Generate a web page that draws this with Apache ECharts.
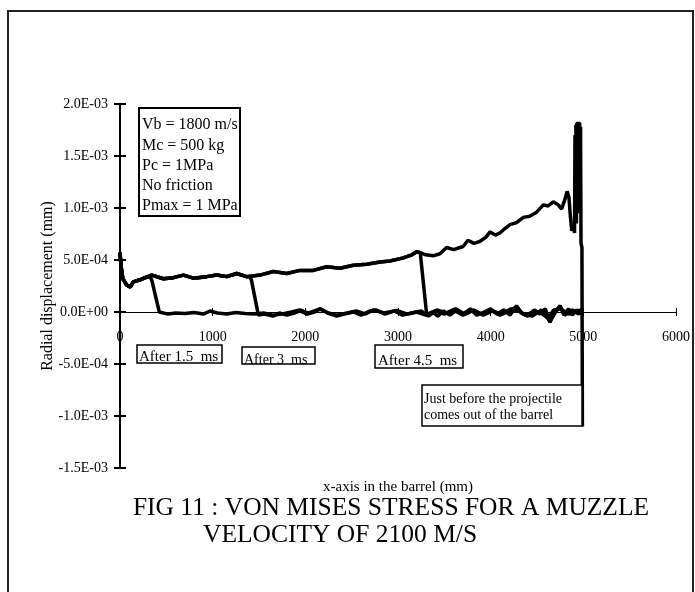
<!DOCTYPE html>
<html><head><meta charset="utf-8">
<script src="https://cdn.jsdelivr.net/npm/echarts/dist/echarts.min.js"></script>
<style>html,body{margin:0;padding:0;background:#fff}#c{width:695px;height:592px}</style>
</head><body><div id="c"></div><script>
// x in mm, y in units of 1E-03 mm
const xTickLabels = ['0','1000','2000','3000','4000','5000','6000'];
const yTickLabels = ['-1.5E-03','-1.0E-03','-5.0E-04','0.0E+00','5.0E-04','1.0E-03','1.5E-03','2.0E-03'];

const after15ms = [[0,0.57],[10,0.45],[30,0.32],[72,0.26],[110,0.24],[144,0.29],[216,0.31],[290,0.34],[330,0.33],
 [345,0.30],[424,0.0],[440,-0.01],[520,-0.02],[600,-0.01],[700,-0.015],[800,-0.005],[900,-0.02],[971,0.01],[1050,-0.01],
 [1150,-0.02],[1250,-0.005],[1350,-0.015],[1450,-0.02],[1550,-0.01],[1650,-0.03],[1750,-0.02],[1850,0.0],[1942,0.02],
 [2030,-0.01],[2158,0.03],[2250,-0.01],[2338,-0.03],[2450,-0.01],[2550,0.01],[2650,-0.02],[2734,0.02],[2850,-0.01],
 [2986,0.015],[3100,-0.02],[3200,0.0],[3300,-0.03],[3400,0.01],[3500,-0.02],[3600,0.02],[3700,-0.03],[3800,0.01],
 [3900,-0.02],[4000,0.02],[4100,-0.03],[4200,0.01],[4280,0.05],[4350,-0.02],[4450,-0.04],[4550,0.02],[4640,-0.09],
 [4700,0.0],[4748,0.05],[4800,-0.03],[4880,0.02],[4950,-0.02],[4990,0.03]];

const after3ms = [[0,0.57],[10,0.45],[30,0.32],[72,0.26],[110,0.24],[144,0.29],[216,0.31],[342,0.355],[468,0.32],
 [576,0.33],[684,0.355],[792,0.325],[935,0.34],[1043,0.355],[1151,0.34],[1259,0.37],[1367,0.34],[1403,0.34],
 [1420,0.30],[1493,-0.03],[1560,-0.02],[1650,-0.04],[1720,-0.01],[1800,-0.03],[1880,-0.01],[1942,0.01],[2020,-0.02],
 [2100,0.0],[2160,0.03],[2240,-0.01],[2338,-0.04],[2420,-0.02],[2520,0.0],[2600,-0.03],[2700,0.01],[2760,0.02],
 [2860,-0.02],[2960,0.01],[3050,-0.03],[3150,-0.01],[3250,0.01],[3330,-0.04],[3420,0.02],[3520,-0.01],[3620,0.03],
 [3720,-0.02],[3820,0.02],[3920,-0.03],[4020,0.01],[4120,-0.02],[4220,0.03],[4300,0.01],[4380,-0.03],[4480,0.01],
 [4560,-0.02],[4620,-0.06],[4680,0.02],[4760,0.03],[4840,-0.02],[4920,0.01],[4990,0.02]];

const after45ms = [[0,0.57],[10,0.45],[30,0.32],[72,0.26],[110,0.24],[144,0.29],[216,0.31],[342,0.355],[468,0.32],
 [576,0.33],[684,0.355],[792,0.325],[935,0.34],[1043,0.355],[1151,0.34],[1259,0.37],[1367,0.34],[1511,0.355],
 [1655,0.39],[1798,0.37],[1942,0.40],[2086,0.40],[2230,0.435],[2374,0.42],[2518,0.45],[2662,0.46],[2806,0.48],
 [2914,0.49],[3057,0.52],[3150,0.55],[3201,0.58],[3240,0.57],[3310,-0.03],[3370,0.0],[3430,-0.04],[3490,0.01],
 [3560,-0.03],[3640,0.02],[3700,-0.02],[3780,0.03],[3850,-0.03],[3930,0.0],[4000,0.03],[4070,-0.02],[4140,0.02],
 [4210,-0.03],[4280,0.06],[4330,-0.01],[4400,-0.04],[4470,0.02],[4530,-0.02],[4590,0.03],[4640,-0.10],[4680,-0.02],
 [4720,0.03],[4750,0.06],[4790,-0.03],[4840,0.03],[4880,-0.03],[4930,0.02],[4970,-0.02],[4990,0.04]];

const justBefore = [[0,0.57],[10,0.45],[30,0.32],[72,0.26],[110,0.24],[144,0.29],[216,0.31],[342,0.355],[468,0.32],
 [576,0.33],[684,0.355],[792,0.325],[935,0.34],[1043,0.355],[1151,0.34],[1259,0.37],[1367,0.34],[1511,0.355],
 [1655,0.39],[1798,0.37],[1942,0.40],[2086,0.40],[2230,0.435],[2374,0.42],[2518,0.45],[2662,0.46],[2806,0.48],
 [2914,0.49],[3057,0.52],[3150,0.55],[3201,0.58],[3240,0.57],[3300,0.55],[3380,0.54],[3453,0.56],[3525,0.62],
 [3600,0.60],[3702,0.63],[3755,0.69],[3820,0.66],[3885,0.68],[3950,0.72],[3993,0.77],[4050,0.74],[4101,0.76],
 [4150,0.80],[4209,0.84],[4280,0.86],[4352,0.91],[4420,0.92],[4496,0.96],[4568,1.03],[4620,1.02],[4676,1.06],
 [4730,1.03],[4766,0.99],[4800,1.08],[4825,1.16],[4845,1.10],[4860,0.92],[4875,0.78],[4890,0.84],[4905,0.76],
 [4910,1.70],[4915,0.90],[4920,1.80],[4925,0.85],[4930,1.82],[4935,0.95],[4940,1.83],[4945,1.00],[4950,1.83],
 [4955,1.05],[4960,1.82],[4965,1.10],[4970,1.78],[4975,0.66],[4985,0.62],[4990,-1.1]];

const infoLines = ['Vb = 1800 m/s','Mc = 500 kg','Pc = 1MPa','No friction','Pmax = 1 MPa'];
const titleLines = ['FIG 11 : VON MISES STRESS FOR A MUZZLE','VELOCITY OF 2100 M/S'];

const FONT = '"Liberation Serif", "Times New Roman", serif';
const chart = echarts.init(document.getElementById('c'), null, {renderer:'canvas'});

function mkSeries(name, data){
  return {name, type:'line', data, showSymbol:false, symbol:'none', smooth:false,
    lineStyle:{color:'#000', width:3.5}, z:3, animation:false};
}

// grid: top 104, bottom edge 468 ; zero of y at 312 -> x axis raised by 156px
const X_AXIS_RAISE = -156;
const axisBaseX = {type:'value', min:0, max:6000, interval:1000, position:'bottom', offset:X_AXIS_RAISE};
const axisBaseY = {type:'value', min:-1.5, max:2.0, interval:0.5, position:'left'};

const graphics = [
  {type:'rect', shape:{x:8, y:11, width:685, height:620}, style:{fill:'none', stroke:'#222', lineWidth:2}, silent:true},
  {type:'rect', shape:{x:139, y:108, width:101, height:108}, style:{fill:'#fff', stroke:'#000', lineWidth:2}, z:10},
];
infoLines.forEach((t,i)=>graphics.push({type:'text', x:142, y:125+i*20.3, z:11,
  style:{text:t, font:'16px '+FONT, fill:'#000', verticalAlign:'middle'}}));
function boxText(x,y,w,h,text,size,tx,ty){
  graphics.push({type:'rect', shape:{x,y,width:w,height:h}, style:{fill:'#fff', stroke:'#000', lineWidth:1.5}, z:10});
  graphics.push({type:'text', x:tx, y:ty, z:11, style:{text, font:size+'px '+FONT, fill:'#000', verticalAlign:'middle'}});
}
boxText(137,345,85,18,'After 1.5  ms',15,139,357);
boxText(242,347,73,17,'After 3  ms',14,244,360);
boxText(375,345,88,23,'After 4.5  ms',15,378,361);
graphics.push({type:'rect', shape:{x:422,y:385,width:160,height:41}, style:{fill:'#fff', stroke:'#000', lineWidth:1.5}, z:10});
graphics.push({type:'text', x:424, y:399, z:11, style:{text:'Just before the projectile', font:'14px '+FONT, fill:'#000', verticalAlign:'middle'}});
graphics.push({type:'text', x:424, y:415, z:11, style:{text:'comes out of the barrel', font:'14px '+FONT, fill:'#000', verticalAlign:'middle'}});
graphics.push({type:'text', x:391, y:508, z:11, style:{text:titleLines[0], font:'25.5px '+FONT, fill:'#000', align:'center', verticalAlign:'middle'}});
graphics.push({type:'text', x:203, y:535, z:11, style:{text:titleLines[1], font:'25.5px '+FONT, fill:'#000', align:'left', verticalAlign:'middle'}});

chart.setOption({
  animation:false,
  backgroundColor:'#fff',
  grid:{left:120, right:19, top:104, bottom:124, containLabel:false, outerBoundsMode:'none'},
  xAxis:[
    Object.assign({}, axisBaseX, {
      name:'x-axis in the barrel (mm)', nameLocation:'middle', nameGap:168, nameMoveOverlap:false,
      nameTextStyle:{fontFamily:FONT, fontSize:15, color:'#000'},
      axisLine:{onZero:false, lineStyle:{color:'#000', width:1}},
      axisTick:{show:true, inside:false, length:4, lineStyle:{color:'#000', width:1}},
      axisLabel:{show:true, margin:18, fontFamily:FONT, fontSize:14, color:'#000', showMinLabel:true, showMaxLabel:true,
        formatter:v=>xTickLabels[Math.round(v/1000)]},
      splitLine:{show:false}
    }),
    Object.assign({}, axisBaseX, {
      axisLine:{show:false, onZero:false},
      axisTick:{show:true, inside:true, length:4, lineStyle:{color:'#000', width:1}},
      axisLabel:{show:false}, splitLine:{show:false}
    })
  ],
  yAxis:[
    Object.assign({}, axisBaseY, {
      name:'Radial displacement (mm)', nameLocation:'middle', nameGap:64, nameMoveOverlap:false,
      nameTextStyle:{fontFamily:FONT, fontSize:16, color:'#000'},
      axisLine:{onZero:false, lineStyle:{color:'#000', width:2}},
      axisTick:{show:true, inside:false, length:6, lineStyle:{color:'#000', width:2}},
      axisLabel:{show:true, margin:12, fontFamily:FONT, fontSize:14, color:'#000',
        formatter:v=>yTickLabels[Math.round((v+1.5)/0.5)]},
      splitLine:{show:false}
    }),
    Object.assign({}, axisBaseY, {
      axisLine:{show:false, onZero:false},
      axisTick:{show:true, inside:true, length:6, lineStyle:{color:'#000', width:2}},
      axisLabel:{show:false}, splitLine:{show:false}
    })
  ],
  series:[
    mkSeries('After 1.5 ms', after15ms),
    mkSeries('After 3 ms', after3ms),
    mkSeries('After 4.5 ms', after45ms),
    mkSeries('Just before the projectile comes out of the barrel', justBefore)
  ],
  graphic:graphics
});
</script></body></html>
